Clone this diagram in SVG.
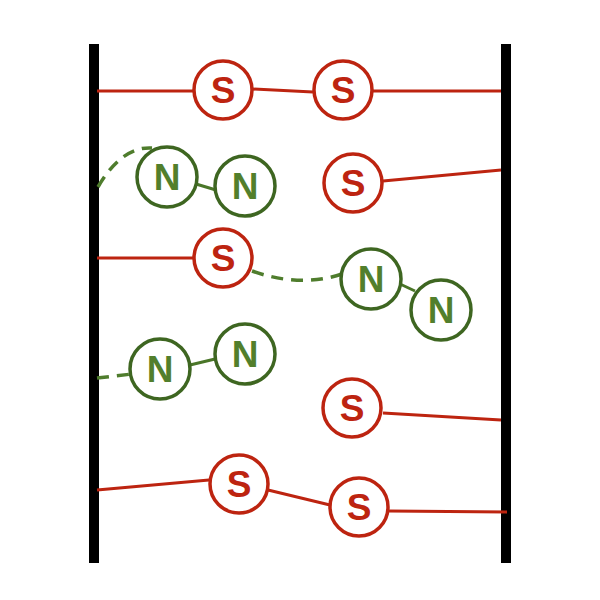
<svg xmlns="http://www.w3.org/2000/svg" width="600" height="600" viewBox="0 0 600 600">
<style>
.wall{fill:#000}
.r{stroke:#bd2410;stroke-width:3;fill:none}
.g{stroke:#4a7628;stroke-width:3;fill:none}
.gd{stroke:#4f7d2d;stroke-width:3.5;fill:none;stroke-dasharray:12 8}
.cs{fill:#fff;stroke:#bd2410;stroke-width:3.5}
.cn{fill:#fff;stroke:#3e6621;stroke-width:3.5}
.ts{fill:#bd2410;font-family:"Liberation Sans",Arial,sans-serif;font-weight:bold;font-size:37px;text-anchor:middle}
.tn{fill:#527f2c;font-family:"Liberation Sans",Arial,sans-serif;font-weight:bold;font-size:37px;text-anchor:middle}
</style>
<rect width="600" height="600" fill="#fff"/>
<g id="walls">
<rect class="wall" x="89" y="44" width="10" height="519"/>
<rect class="wall" x="501" y="44" width="10" height="519"/>
</g>
<g id="connectors">
<path class="r" d="M97,91 L193,91"/>
<path class="r" d="M253,89 L313,92"/>
<path class="r" d="M373,91 L501,91"/>
<path class="gd" d="M98,187 Q122,146 152,148"/>
<path class="g" d="M196,184 L216,190"/>
<path class="r" d="M383,181 L501,170"/>
<path class="r" d="M97,258 L193,258"/>
<path class="gd" d="M252,271 Q300,288 342,274"/>
<path class="g" d="M400,284 L415,291"/>
<path class="gd" d="M97,378 L132,374"/>
<path class="g" d="M190,365 L215,359"/>
<path class="r" d="M383,413 L501,420"/>
<path class="r" d="M97,490 L209,480"/>
<path class="r" d="M268,490 L330,505"/>
<path class="r" d="M389,511 L507,512"/>
</g>
<g id="s1"><circle class="cs" cx="223" cy="90" r="29"/><text class="ts" x="223" y="103">S</text></g>
<g id="s2"><circle class="cs" cx="343" cy="90" r="29"/><text class="ts" x="343" y="103">S</text></g>
<g id="n1"><circle class="cn" cx="167" cy="177" r="30"/><text class="tn" x="167" y="190">N</text></g>
<g id="n2"><circle class="cn" cx="245" cy="186" r="30"/><text class="tn" x="245" y="199">N</text></g>
<g id="s3"><circle class="cs" cx="353" cy="183" r="29"/><text class="ts" x="353" y="196">S</text></g>
<g id="s4"><circle class="cs" cx="223" cy="258" r="29"/><text class="ts" x="223" y="271">S</text></g>
<g id="n3"><circle class="cn" cx="371" cy="279" r="30"/><text class="tn" x="371" y="292">N</text></g>
<g id="n4"><circle class="cn" cx="441" cy="310" r="30"/><text class="tn" x="441" y="323">N</text></g>
<g id="n5"><circle class="cn" cx="160" cy="369" r="30"/><text class="tn" x="160" y="382">N</text></g>
<g id="n6"><circle class="cn" cx="245" cy="354" r="30"/><text class="tn" x="245" y="367">N</text></g>
<g id="s5"><circle class="cs" cx="352" cy="408" r="29"/><text class="ts" x="352" y="421">S</text></g>
<g id="s6"><circle class="cs" cx="239" cy="484" r="29"/><text class="ts" x="239" y="497">S</text></g>
<g id="s7"><circle class="cs" cx="359" cy="507" r="29"/><text class="ts" x="359" y="520">S</text></g>
</svg>
